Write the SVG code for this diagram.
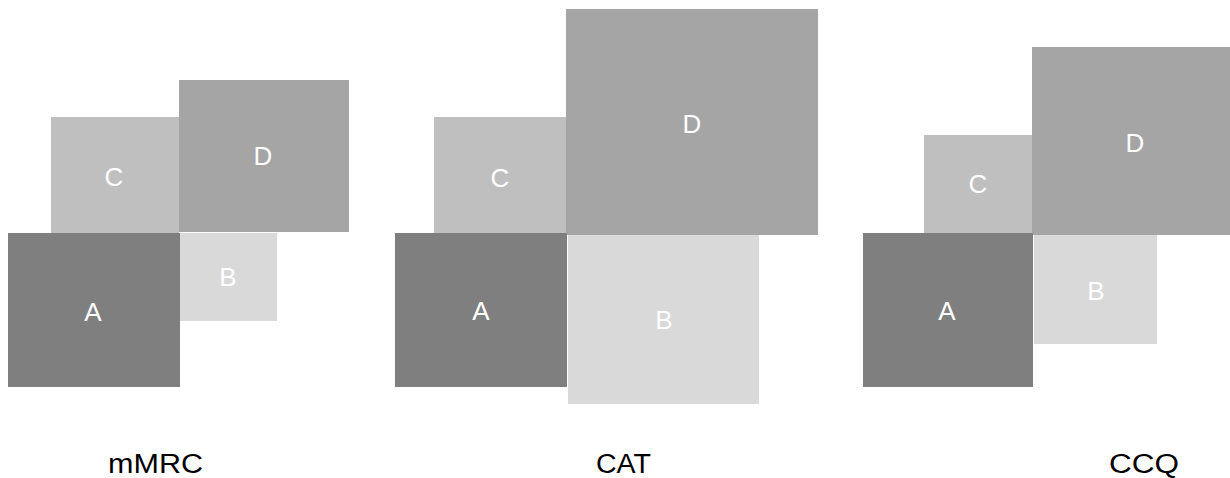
<svg xmlns="http://www.w3.org/2000/svg" width="1230" height="478" viewBox="0 0 1230 478">
<style>
.a{fill:#7f7f7f}.b{fill:#d9d9d9}.c{fill:#bfbfbf}.d{fill:#a5a5a5}
.l{font-family:"Liberation Sans",Arial,sans-serif;font-size:26px;fill:#ffffff;text-anchor:middle}
.t{font-family:"Liberation Sans",Arial,sans-serif;font-size:27px;fill:#000000;text-anchor:middle}
</style>
<rect width="1230" height="478" fill="#ffffff"/>
<g id="mMRC">
<g id="m-C"><rect class="c" x="51" y="117" width="128" height="116"/><text class="l" x="114" y="186">C</text></g>
<g id="m-D"><rect class="d" x="179" y="80" width="170" height="152"/><text class="l" x="263" y="165">D</text></g>
<g id="m-A"><rect class="a" x="8" y="233" width="172" height="154"/><text class="l" x="93" y="321">A</text></g>
<g id="m-B"><rect class="b" x="180" y="233" width="97" height="88"/><text class="l" x="228" y="286">B</text></g>
<text class="t" x="155.5" y="473" textLength="95" lengthAdjust="spacingAndGlyphs">mMRC</text>
</g>
<g id="CAT">
<g id="c-C"><rect class="c" x="434" y="117" width="132" height="118"/><text class="l" x="500" y="187">C</text></g>
<g id="c-D"><rect class="d" x="566" y="9" width="252" height="226"/><text class="l" x="692" y="133">D</text></g>
<g id="c-A"><rect class="a" x="395" y="233" width="172" height="154"/><text class="l" x="481" y="320">A</text></g>
<g id="c-B"><rect class="b" x="568" y="235" width="191" height="169"/><text class="l" x="664" y="329">B</text></g>
<text class="t" x="623.5" y="473" textLength="55" lengthAdjust="spacingAndGlyphs">CAT</text>
</g>
<g id="CCQ">
<g id="q-C"><rect class="c" x="924" y="135" width="108" height="98"/><text class="l" x="978" y="193">C</text></g>
<g id="q-D"><rect class="d" x="1032" y="47" width="198" height="188"/><text class="l" x="1135" y="152">D</text></g>
<g id="q-A"><rect class="a" x="863" y="233" width="170" height="154"/><text class="l" x="947" y="320">A</text></g>
<g id="q-B"><rect class="b" x="1034" y="235" width="123" height="109"/><text class="l" x="1096" y="300">B</text></g>
<text class="t" x="1144" y="473" textLength="70" lengthAdjust="spacingAndGlyphs">CCQ</text>
</g>
<g id="connectors"/>
</svg>
